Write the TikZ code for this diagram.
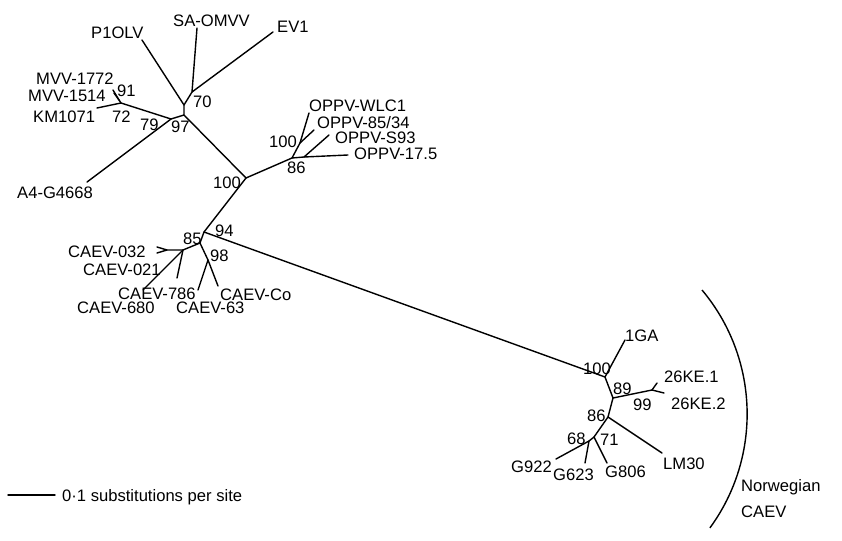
\documentclass[tikz,border=0pt]{standalone}
\usepackage{fontspec}
\setmainfont{Liberation Sans}
\begin{document}
\begin{tikzpicture}[x=1pt,y=-1pt,
 br/.style={line width=1.4pt, line cap=round, line join=round},
 lab/.style={inner sep=0pt, anchor=west, text height=12pt, text depth=0pt, font=\fontsize{16.6}{18}\selectfont}]
\useasboundingbox[fill=white] (0,0) rectangle (842,540);
% junctions and leaf ends
\coordinate (n70) at (192,92);
\coordinate (lSA) at (197,28);
\coordinate (lEV) at (273,32);
\coordinate (n70b) at (184,105);
\coordinate (lP1) at (142,40);
\coordinate (n97) at (184,115);
\coordinate (n79) at (171,119);
\coordinate (lA4) at (87,182);
\coordinate (n72) at (121,103);
\coordinate (lKM) at (97,108);
\coordinate (n91) at (119,100);
\coordinate (l1772) at (113,90);
\coordinate (l1514) at (114,93);
\coordinate (n100) at (246,178);
\coordinate (n86) at (292,158);
\coordinate (n100o) at (300,143);
\coordinate (lWLC) at (309,113);
\coordinate (l8534) at (314,130);
\coordinate (n86b) at (304,157);
\coordinate (lS93) at (329,135);
\coordinate (l175) at (348,155);
\coordinate (n94) at (204,232);
\coordinate (n85) at (200,243);
\coordinate (n85L) at (183,250);
\coordinate (n032) at (167,250);
\coordinate (l032) at (157,247);
\coordinate (l021) at (157,253);
\coordinate (l680) at (143,290);
\coordinate (l786) at (177,278);
\coordinate (n98) at (208,260);
\coordinate (l63) at (198,290);
\coordinate (lCo) at (218,286);
\coordinate (nN100) at (605,377);
\coordinate (l1GA) at (625,340);
\coordinate (n89) at (613,398);
\coordinate (n99) at (652,390);
\coordinate (lKE1) at (657,383);
\coordinate (lKE2) at (664,393);
\coordinate (nN86) at (608,417);
\coordinate (lLM) at (662,453);
\coordinate (n71) at (594,437);
\coordinate (n68) at (589,441);
\coordinate (lG922) at (556,459);
\coordinate (lG623) at (585,463);
\coordinate (lG806) at (607,463);
\coordinate (sb1) at (8,495);
\coordinate (sb2) at (55,495);
\coordinate (arcS) at (702,290);
% branches
\draw[br] (lSA) -- (n70) -- (lEV);
\draw[br] (n70) -- (n70b) -- (lP1);
\draw[br] (n70b) -- (n97) -- (n79) -- (lA4);
\draw[br] (n79) -- (n72) -- (lKM);
\draw[br] (n72) -- (n91) -- (l1772);
\draw[br] (n91) -- (l1514);
\draw[br] (n97) -- (n100) -- (n86) -- (n100o) -- (lWLC);
\draw[br] (n100o) -- (l8534);
\draw[br] (n86) -- (n86b) -- (lS93);
\draw[br] (n86b) -- (l175);
\draw[br] (n100) -- (n94) -- (n85) -- (n85L) -- (n032) -- (l032);
\draw[br] (n032) -- (l021);
\draw[br] (n85L) -- (l680);
\draw[br] (n85L) -- (l786);
\draw[br] (n85) -- (n98) -- (l63);
\draw[br] (n98) -- (lCo);
\draw[br] (n94) -- (nN100) -- (l1GA);
\draw[br] (nN100) -- (n89) -- (n99) -- (lKE1);
\draw[br] (n99) -- (lKE2);
\draw[br] (n89) -- (nN86) -- (lLM);
\draw[br] (nN86) -- (n71) -- (lG806);
\draw[br] (n71) -- (n68) -- (lG922);
\draw[br] (n68) -- (lG623);
\draw[br] (sb1) -- (sb2);
\draw[line width=1.4pt] (arcS) arc[start angle=-40, end angle=36.2, radius=192.9];
% labels
\node[lab] (tP1) at (91,33) {P1OLV};
\node[lab] (tSA) at (173,21) {SA-OMVV};
\node[lab] (tEV) at (277,27) {EV1};
\node[lab] (t1772) at (36,79) {MVV-1772};
\node[lab] (t1514) at (28,96) {MVV-1514};
\node[lab] (b91) at (117,91) {91};
\node[lab] (tKM) at (33,117) {KM1071};
\node[lab] (b72) at (112,117) {72};
\node[lab] (b79) at (140,125) {79};
\node[lab] (b97) at (171,127) {97};
\node[lab] (b70) at (193,102) {70};
\node[lab] (tA4) at (17,192) {A4-G4668};
\node[lab] (b100) at (213,182) {100};
\node[lab] (tWLC) at (309,106) {OPPV-WLC1};
\node[lab] (t8534) at (317,123) {OPPV-85/34};
\node[lab] (tS93) at (335,138) {OPPV-S93};
\node[lab] (t175) at (354,154) {OPPV-17.5};
\node[lab] (b100o) at (269,142) {100};
\node[lab] (b86o) at (287,168) {86};
\node[lab] (b94) at (215,230) {94};
\node[lab] (b85) at (183,238) {85};
\node[lab] (b98) at (210,255) {98};
\node[lab] (t032) at (68,251) {CAEV-032};
\node[lab] (t021) at (83,269) {CAEV-021};
\node[lab] (t786) at (118,293.5) {CAEV-786};
\node[lab] (t680) at (77,307.5) {CAEV-680};
\node[lab] (t63) at (176,307) {CAEV-63};
\node[lab] (tCo) at (220,294) {CAEV-Co};
\node[lab] (t1GA) at (625,335) {1GA};
\node[lab] (bN100) at (583,368) {100};
\node[lab] (b89) at (613,388) {89};
\node[lab] (b99) at (633,404) {99};
\node[lab] (tKE1) at (664,376) {26KE.1};
\node[lab] (tKE2) at (671,403) {26KE.2};
\node[lab] (bN86) at (587,415) {86};
\node[lab] (b68) at (567,438) {68};
\node[lab] (b71) at (600,439) {71};
\node[lab] (tLM) at (663,463) {LM30};
\node[lab] (tG806) at (605,471) {G806};
\node[lab] (tG623) at (553,474) {G623};
\node[lab] (tG922) at (511,466) {G922};
\node[lab] (tNor) at (741,485) {Norwegian};
\node[lab] (tCAEV) at (741,511) {CAEV};
\node[lab] (tsb) at (62,495) {0·1 substitutions per site};
\end{tikzpicture}
\end{document}
